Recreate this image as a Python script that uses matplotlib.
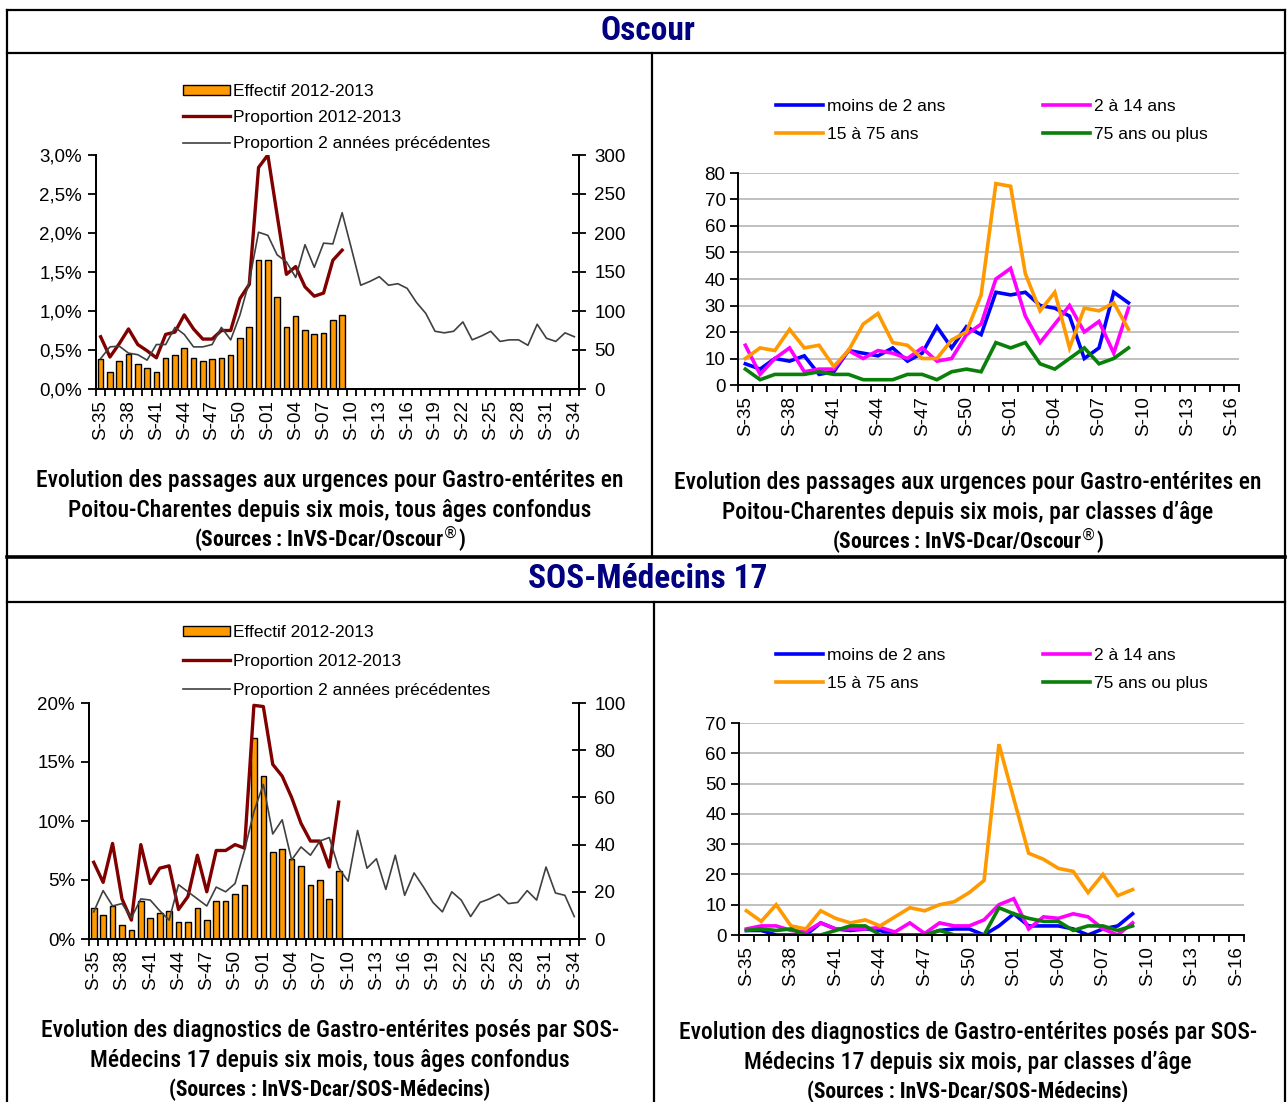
import matplotlib.pyplot as plt
import numpy as np
from matplotlib import font_manager
from matplotlib.lines import Line2D
from matplotlib.ticker import FuncFormatter, FixedLocator

# week labels: S-35 (2012) to S-34 (2013)
weeks = ['S-%02d' % w for w in list(range(35, 53)) + list(range(1, 35))]
weeks_age = weeks[:34]  # S-35 .. S-16

# Oscour - all ages (S-35 .. S-09)
osc_effectif = [38, 22, 36, 45, 32, 27, 22, 40, 43, 52, 40, 36, 38, 40, 43, 65, 79,
                165, 165, 118, 79, 93, 76, 70, 72, 88, 95]
osc_prop = [0.67, 0.41, 0.58, 0.77, 0.57, 0.49, 0.40, 0.70, 0.73, 0.95, 0.77, 0.64, 0.64,
            0.75, 0.75, 1.16, 1.34, 2.84, 3.00, 2.23, 1.47, 1.57, 1.31, 1.19, 1.23, 1.65, 1.78]
osc_prev = [0.39, 0.54, 0.55, 0.46, 0.44, 0.37, 0.57, 0.57, 0.79, 0.70, 0.54, 0.54, 0.57,
            0.79, 0.63, 0.95, 1.38, 2.01, 1.97, 1.72, 1.63, 1.43, 1.85, 1.56, 1.87, 1.86,
            2.26, 1.80, 1.33, 1.38, 1.44, 1.33, 1.35, 1.29, 1.11, 0.97, 0.74, 0.72, 0.74,
            0.86, 0.63, 0.68, 0.74, 0.61, 0.63, 0.63, 0.56, 0.83, 0.65, 0.61, 0.72, 0.67]

# Oscour - by age class
osc_moins2 = [8, 6, 10, 9, 11, 4, 5, 13, 12, 11, 14, 9, 12, 22, 14, 22,
              19, 35, 34, 35, 30, 29, 26, 10, 14, 35, 31]
osc_2a14 = [15, 4, 10, 14, 5, 6, 6, 13, 10, 13, 12, 10, 14, 9, 10, 19,
            23, 40, 44, 26, 16, 23, 30, 20, 24, 12, 29]
osc_15a75 = [10, 14, 13, 21, 14, 15, 7, 13, 23, 27, 16, 15, 10, 10, 17, 20,
             34, 76, 75, 42, 28, 35, 14, 29, 28, 31, 21]
osc_75plus = [6, 2, 4, 4, 4, 5, 4, 4, 2, 2, 2, 4, 4, 2, 5, 6,
              5, 16, 14, 16, 8, 6, 10, 14, 8, 10, 14]

# SOS-Medecins 17 - all ages
sos_effectif = [13, 10, 14, 6, 4, 16, 9, 11, 12, 7, 7, 13, 8, 16, 16, 19, 23,
                85, 69, 37, 38, 34, 31, 23, 25, 17, 29]
sos_prop = [6.5, 4.8, 8.1, 3.4, 1.6, 8.0, 4.7, 6.0, 6.2, 2.5, 3.6, 7.1, 4.0, 7.5, 7.5,
            8.0, 7.7, 19.8, 19.7, 14.8, 13.8, 12.0, 9.8, 8.3, 8.3, 6.1, 11.6]
sos_prev = [2.3, 4.1, 2.8, 3.0, 1.8, 3.4, 3.3, 2.4, 1.6, 4.6, 4.0, 3.4, 2.8, 4.4, 4.0,
            4.7, 7.5, 10.8, 13.1, 8.9, 10.1, 6.7, 7.8, 7.1, 8.3, 8.6, 6.0, 4.9, 9.2,
            6.0, 6.8, 4.2, 7.1, 3.7, 5.6, 4.4, 3.1, 2.3, 4.0, 3.3, 1.9, 3.1, 3.4, 3.8,
            3.0, 3.1, 4.1, 3.3, 6.1, 3.9, 3.7, 1.9]

# SOS-Medecins 17 - by age class
sos_moins2 = [1.5, 1.5, 0, 0, 0, 4, 2, 1.5, 2, 1.5, 0, 0, 0, 1.5, 2, 2,
              0, 3, 7, 3, 3, 3, 2, 0, 2, 3, 7]
sos_2a14 = [2, 3, 3, 1.5, 1, 4, 2, 2, 2, 2.5, 1, 4, 0.5, 4, 3, 3,
            5, 10, 12, 2, 6, 5.5, 7, 6, 2, 0, 4]
sos_15a75 = [8, 4.5, 10, 3, 2, 8, 5.5, 4, 5, 3, 6, 9, 8, 10, 11, 14,
             18, 63, 45, 27, 25, 22, 21, 14, 20, 13, 15]
sos_75plus = [1.5, 2, 1.5, 2, 0, 0, 1.5, 3, 3, 0, 0, 0, 0, 1.5, 0, 0,
              0, 9, 7, 5.5, 4.5, 4.5, 1.5, 3, 3, 1.5, 3]

W, H = 1287, 1102
fig = plt.figure(figsize=(W / 100, H / 100), dpi=100)
plt.rcParams['font.family'] = ['Liberation Sans', 'DejaVu Sans']

# captions use a condensed face when one is installed
installed = {f.name for f in font_manager.fontManager.ttflist}
if 'Roboto Condensed' in installed:
    narrow, cap_size, src_size, head_size = 'Roboto Condensed', 17, 15.5, 24
elif 'Liberation Sans Narrow' in installed:
    narrow, cap_size, src_size, head_size = 'Liberation Sans Narrow', 17, 15.5, 24
else:
    narrow, cap_size, src_size, head_size = 'Liberation Sans', 14.5, 12.5, 21

ORANGE = '#FF9900'
DARKRED = '#800000'
GREY = '#404040'
NAVY = '#000080'


def fx(px):
    return px / W


def fy(py):
    return 1 - py / H


def hline(y, x0, x1, lw=1.6):
    fig.add_artist(Line2D([fx(x0), fx(x1)], [fy(y), fy(y)], color='black', lw=lw))


def vline(x, y0, y1, lw=1.6):
    fig.add_artist(Line2D([fx(x), fx(x)], [fy(y0), fy(y1)], color='black', lw=lw))


# table borders
hline(10, 7, 1285)
hline(53, 7, 1285)
hline(557, 7, 1285, lw=2.6)
hline(602, 7, 1285)
vline(7, 10, 1102)
vline(1285, 10, 1102)
vline(652, 53, 557)
vline(654, 602, 1102)

fig.text(fx(648), fy(31), 'Oscour', color=NAVY, fontsize=head_size, fontweight='bold',
         family=narrow, ha='center', va='center')
fig.text(fx(648), fy(579), 'SOS-Médecins 17', color=NAVY, fontsize=head_size,
         fontweight='bold', family=narrow, ha='center', va='center')


def caption(xc, y1, lines, source):
    fig.text(fx(xc), fy(y1), lines[0], fontsize=cap_size, family=narrow,
             fontweight='medium', ha='center', va='center')
    fig.text(fx(xc), fy(y1 + 30), lines[1], fontsize=cap_size, family=narrow,
             fontweight='medium', ha='center', va='center')
    fig.text(fx(xc), fy(y1 + 59), source, fontsize=src_size, fontweight='bold',
             family=narrow, ha='center', va='center')


caption(330, 481, ['Evolution des passages aux urgences pour Gastro-entérites en',
                   'Poitou-Charentes depuis six mois, tous âges confondus'],
        r'(Sources : InVS-Dcar/Oscour$^{\circledR}$)')
caption(968, 483, ['Evolution des passages aux urgences pour Gastro-entérites en',
                   'Poitou-Charentes depuis six mois, par classes d\u2019âge'],
        r'(Sources : InVS-Dcar/Oscour$^{\circledR}$)')
caption(330, 1031, ['Evolution des diagnostics de Gastro-entérites posés par SOS-',
                    'Médecins 17 depuis six mois, tous âges confondus'],
        '(Sources : InVS-Dcar/SOS-Médecins)')
caption(968, 1033, ['Evolution des diagnostics de Gastro-entérites posés par SOS-',
                    'Médecins 17 depuis six mois, par classes d\u2019âge'],
        '(Sources : InVS-Dcar/SOS-Médecins)')


def week_axis(ax, labels):
    n = len(labels)
    ax.set_xlim(-0.5, n - 0.5)
    ax.xaxis.set_major_locator(FixedLocator(np.arange(-0.5, n, 1)))
    ax.xaxis.set_major_formatter(FuncFormatter(lambda v, p: ''))
    ax.set_xticks(np.arange(0, n, 3), minor=True)
    ax.set_xticklabels(labels[::3], minor=True, rotation=90, fontsize=13.5)
    ax.tick_params(axis='x', which='major', length=5, width=1.3, direction='out')
    ax.tick_params(axis='x', which='minor', length=0, pad=8)


def total_chart(box, effectif, prop, prev, pmax, pstep, pfmt, nmax, nstep, leg_xy, lsp):
    x0, top, x1, bottom = box
    ax = fig.add_axes([fx(x0), fy(bottom), fx(x1) - fx(x0), (bottom - top) / H])
    ax2 = ax.twinx()
    ax.set_zorder(ax2.get_zorder() + 1)
    ax.patch.set_visible(False)
    bars = ax2.bar(np.arange(len(effectif)), effectif, width=0.6, color=ORANGE,
                   edgecolor='black', linewidth=1.0, label='Effectif 2012-2013')
    l1, = ax.plot(np.arange(len(prop)), prop, color=DARKRED, lw=2.4,
                  label='Proportion 2012-2013')
    l2, = ax.plot(np.arange(len(prev)), prev, color=GREY, lw=1.2,
                  label='Proportion 2 années précédentes')
    ax.set_ylim(0, pmax)
    ax.set_yticks(np.arange(0, pmax + pstep / 2, pstep))
    ax.yaxis.set_major_formatter(FuncFormatter(pfmt))
    ax2.set_ylim(0, nmax)
    ax2.set_yticks(np.arange(0, nmax + 1, nstep))
    week_axis(ax, weeks)
    for a in (ax, ax2):
        a.spines['top'].set_visible(False)
        for s in ('left', 'right', 'bottom'):
            a.spines[s].set_linewidth(1.4)
    ax.tick_params(axis='y', length=6, width=1.3, direction='out', labelsize=13.5, pad=4)
    ax2.tick_params(axis='y', length=10, width=1.3, direction='inout', labelsize=13.5, pad=6)
    ax.legend([bars, l1, l2], [bars.get_label(), l1.get_label(), l2.get_label()],
              loc='upper left', bbox_to_anchor=(fx(leg_xy[0]), fy(leg_xy[1])),
              bbox_transform=fig.transFigure, frameon=False, fontsize=12.5,
              borderpad=0, borderaxespad=0, handlelength=2.7, handleheight=0.55,
              handletextpad=0.2, labelspacing=lsp)


def age_chart(box, series, ymax, leg_xy, lsp):
    x0, top, x1, bottom = box
    ax = fig.add_axes([fx(x0), fy(bottom), fx(x1) - fx(x0), (bottom - top) / H])
    colors = ['#0000FF', '#FF00FF', ORANGE, '#0A7F0A']
    names = ['moins de 2 ans', '2 à 14 ans', '15 à 75 ans', '75 ans ou plus']
    handles = []
    for vals, c, nm in zip(series, colors, names):
        h, = ax.plot(np.arange(len(vals)), vals, color=c, lw=2.6, label=nm,
                     solid_joinstyle='miter')
        handles.append(h)
    ax.set_ylim(0, ymax)
    ax.set_yticks(np.arange(0, ymax + 1, 10))
    ax.yaxis.grid(True, color='#C0C0C0', lw=1.4)
    ax.set_axisbelow(True)
    week_axis(ax, weeks_age)
    ax.spines['top'].set_visible(False)
    ax.spines['right'].set_visible(False)
    ax.spines['left'].set_linewidth(1.4)
    ax.spines['bottom'].set_linewidth(1.4)
    ax.tick_params(axis='y', length=6, width=1.3, direction='out', labelsize=13.5, pad=3)
    order = [0, 2, 1, 3]
    ax.legend([handles[i] for i in order], [names[i] for i in order], ncol=2,
              loc='upper left', bbox_to_anchor=(fx(leg_xy[0]), fy(leg_xy[1])),
              bbox_transform=fig.transFigure, frameon=False, fontsize=12.5,
              borderpad=0, borderaxespad=0, handlelength=2.7, handletextpad=0.25,
              labelspacing=lsp, columnspacing=5.6)


total_chart((96, 155, 579, 389), osc_effectif, osc_prop, osc_prev, 3.0, 0.5,
            lambda v, p: ('%.1f%%' % v).replace('.', ','), 300, 50, (183, 84), 0.64)
age_chart((738, 173, 1239, 385), [osc_moins2, osc_2a14, osc_15a75, osc_75plus], 80,
          (776, 99), 0.74)
total_chart((89, 703, 579, 939), sos_effectif, sos_prop, sos_prev, 20, 5,
            lambda v, p: '%d%%' % v, 100, 20, (183, 625), 0.8)
age_chart((739, 723, 1244, 935), [sos_moins2, sos_2a14, sos_15a75, sos_75plus], 70,
          (776, 648), 0.74)

fig.savefig('out.png', dpi=100)
